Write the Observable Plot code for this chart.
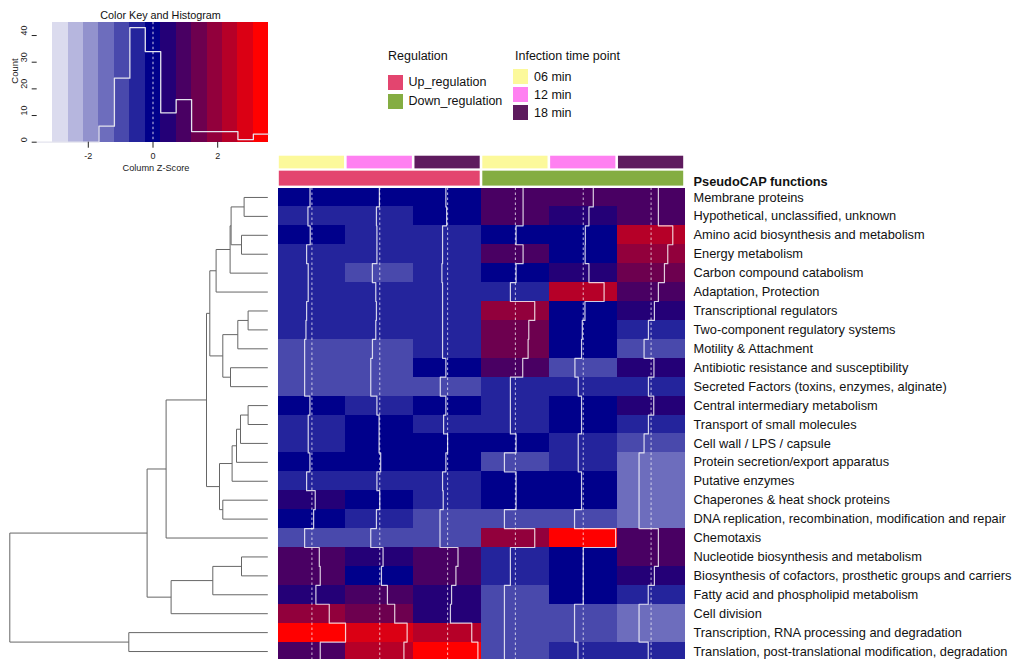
<!DOCTYPE html>
<html>
<head>
<meta charset="utf-8">
<script src="https://cdn.jsdelivr.net/npm/d3@7"></script>
<script src="https://cdn.jsdelivr.net/npm/@observablehq/plot@0.6"></script>
<style>
  html, body { margin: 0; padding: 0; background: #ffffff; }
  #chart { position: relative; width: 1015px; height: 659px; overflow: hidden;
           font-family: "Liberation Sans", Arial, Helvetica, sans-serif; color: #111; }
  #chart svg { position: absolute; left: 0; top: 0; }
  .lg-title { position: absolute; font-size: 12.5px; line-height: 16px; white-space: nowrap; }
  .lg-item { position: absolute; font-size: 12.5px; line-height: 16px; white-space: nowrap; }
  .lg-swatch { position: absolute; width: 15px; height: 15px; }
</style>
</head>
<body>
<div id="chart"></div>
<script>
// ---------- data ----------
const rowLabels = [
  "Membrane proteins",
  "Hypothetical, unclassified, unknown",
  "Amino acid biosynthesis and metabolism",
  "Energy metabolism",
  "Carbon compound catabolism",
  "Adaptation, Protection",
  "Transcriptional regulators",
  "Two-component regulatory systems",
  "Motility & Attachment",
  "Antibiotic resistance and susceptibility",
  "Secreted Factors (toxins, enzymes, alginate)",
  "Central intermediary metabolism",
  "Transport of small molecules",
  "Cell wall / LPS / capsule",
  "Protein secretion/export apparatus",
  "Putative enzymes",
  "Chaperones & heat shock proteins",
  "DNA replication, recombination, modification and repair",
  "Chemotaxis",
  "Nucleotide biosynthesis and metabolism",
  "Biosynthesis of cofactors, prosthetic groups and carriers",
  "Fatty acid and phospholipid metabolism",
  "Cell division",
  "Transcription, RNA processing and degradation",
  "Translation, post-translational modification, degradation"
];

// column z-scores, one array per sample column (rows in the order above)
const up06   = [-0.20,-0.42,-0.18,-0.56,-0.39,-0.39,-0.56,-0.63,-0.77,-0.77,-0.77,-0.21,-0.39,-0.39,-0.21,-0.56, 0.35, 0.18,-0.77, 0.78, 0.88, 0.42, 1.83, 3.55, 0.88];
const up12   = [-0.04,-0.35,-0.30,-0.30,-0.78,-0.42,-0.35,-0.42,-0.77,-0.95,-0.95,-0.30,-0.07,-0.07, 0.10,-0.30, 0.00,-0.35,-0.95, 0.35, 0.18, 0.81, 1.58, 2.89, 2.55];
const up18   = [-0.18,-0.10,-0.53,-0.53,-0.60,-0.53,-0.53,-0.53,-0.53,-0.18,-0.77,-0.18,-0.42, 0.00,-0.18,-0.53,-0.46,-0.80,-0.80, 1.10, 0.88, 0.42, 0.30, 2.55, 3.20];
const down06 = [ 0.81, 0.81, 0.07, 0.81, 0.07,-0.53, 2.04, 1.41, 1.34, 0.77,-0.53,-0.53,-0.53, 0.07,-1.16, 0.07, 0.07,-1.16, 2.04,-0.53,-0.53,-1.16,-1.16,-1.16,-1.16];
const down12 = [ 1.06, 0.60, 0.22, 0.20, 0.60, 2.20, 0.18,-0.10,-0.18,-0.88,-0.53,-0.18,-0.18,-0.53,-0.53,-0.18,-0.18,-0.92, 3.42, 0.00, 0.00, 0.00,-0.92,-0.92,-0.56];
const down18 = [ 0.77, 0.77, 2.29, 1.76, 1.41, 0.77, 0.35,-0.28,-0.74, 0.30,-0.28, 0.28,-0.28,-0.74,-1.27,-1.27,-1.27,-1.27, 0.77, 0.77, 0.35,-0.30,-1.27,-1.27,-0.30];

const colRegulation = ["Up_regulation", "Up_regulation", "Up_regulation", "Down_regulation", "Down_regulation", "Down_regulation"];
const colTime = ["06 min", "12 min", "18 min", "06 min", "12 min", "18 min"];
const regulationLevels = ["Up_regulation", "Down_regulation"];
const timeLevels = ["06 min", "12 min", "18 min"];

// row dendrogram (hclust-style merges: negative = leaf row, positive = earlier merge)
const mergeLeft   = [-1, -3, 1, 3, 4, -7, 6, -10, 7, 5, -12, 11, 12, 13, -17, 14, 10, 17, -20, 19, 20, 18, -24, 22];
const mergeRight  = [-2, -4, 2, -5, -6, -8, -9, -11, 8, 9, -13, -14, -15, -16, -18, 15, 16, -19, -21, -22, -23, 21, -25, 23];
const mergeHeight = [0.237, 0.263, 0.367, 0.377, 0.517, 0.197, 0.300, 0.373, 0.450, 0.580, 0.197, 0.273, 0.313, 0.357, 0.450, 0.483, 0.613, 1.017, 0.263, 0.550, 0.967, 1.207, 1.390, 2.580];

const keyTicksX = [-2, 0, 2];
const keyTicksY = [0, 10, 20, 30, 40];

// ---------- styling ----------
const FONT = '"Liberation Sans", Arial, Helvetica, sans-serif';
const regulationColors = {"Up_regulation": "#e3456f", "Down_regulation": "#84ad42"};
const timeColors = {"06 min": "#fcf99b", "12 min": "#ff80f1", "18 min": "#5e1b5e"};

const zMax = 3.58, nBins = 15;
const breaks = d3.range(nBins + 1).map(k => -zMax + k * 2 * zMax / nBins);
const ramp = d3.piecewise(d3.interpolateRgb, ["#ffffff", "#00008b", "#ff0000"]);
const palette = d3.range(nBins).map(i => d3.color(ramp(i / (nBins - 1))).formatHex());
const colorScale = {type: "threshold", domain: breaks.slice(1, -1), range: palette};

const columnSeries = [up06, up12, up18, down06, down12, down18];
const nCols = columnSeries.length, nRows = rowLabels.length;

const cells = columnSeries.flatMap((vals, c) => vals.map((v, r) => ({c, r, v})));
// column trace: offset from the column centre proportional to the z-score
const tracePts = columnSeries.flatMap((vals, c) => vals.flatMap((v, r) => {
  const x = c + 0.5 + v / (2 * zMax);
  return [{c, x, y: r}, {c, x, y: r + 1}];
}));

const regGroups = regulationLevels.map(g => {
  const idx = colRegulation.map((d, i) => d === g ? i : -1).filter(i => i >= 0);
  return {g, x1: d3.min(idx), x2: d3.max(idx) + 1};
});

const chart = document.getElementById("chart");

// ---------- heatmap ----------
const heat = Plot.plot({
  width: 1015, height: 659,
  x: {domain: [0, nCols], range: [277.5, 684.5], axis: null},
  y: {domain: [0, nRows], range: [187.5, 660.5], axis: null},
  color: colorScale,
  style: {fontFamily: FONT, background: "transparent", color: "#111"},
  marks: [
    Plot.rect(cells, {x1: "c", x2: d => d.c + 1, y1: "r", y2: d => d.r + 1, fill: "v",
      shapeRendering: "crispEdges"}),
    Plot.ruleX(d3.range(nCols), {x: c => c + 0.5, y1: 0, y2: nRows, stroke: "#ffffff",
      strokeOpacity: 0.65, strokeWidth: 1.1, strokeDasharray: "2.5,2.5"}),
    Plot.line(tracePts, {x: "x", y: "y", z: "c", stroke: "#ffffff", strokeOpacity: 0.8, strokeWidth: 1.2}),
    ...timeLevels.map(t => Plot.rect(d3.range(nCols).filter(c => colTime[c] === t), {
      x1: c => c, x2: c => c + 1, y1: -1.68, y2: -1.01, fill: timeColors[t], insetLeft: 1.3, insetRight: 1.3})),
    ...regGroups.map(g => Plot.rect([g], {
      x1: "x1", x2: "x2", y1: -0.89, y2: -0.1, fill: regulationColors[g.g], insetLeft: 1.3, insetRight: 1.3})),
    Plot.text(rowLabels, {x: nCols, y: (d, i) => i + 0.5, text: d => d, dx: 8.5,
      textAnchor: "start", fontSize: 12.8, fill: "#111"}),
    Plot.text(["PseudoCAP functions"], {x: nCols, y: -0.34, text: d => d, dx: 8.5,
      textAnchor: "start", fontSize: 12.8, fontWeight: "bold", fill: "#111"})
  ]
});
chart.appendChild(heat);

// ---------- row dendrogram ----------
const nodeY = [], nodeH = [];
const segs = [];
const childPos = id => id < 0 ? {y: -id - 0.5, h: 0} : {y: nodeY[id - 1], h: nodeH[id - 1]};
mergeHeight.forEach((h, i) => {
  const a = childPos(mergeLeft[i]), b = childPos(mergeRight[i]);
  segs.push({x1: a.h, y1: a.y, x2: h, y2: a.y});
  segs.push({x1: b.h, y1: b.y, x2: h, y2: b.y});
  segs.push({x1: h, y1: a.y, x2: h, y2: b.y});
  nodeY.push((a.y + b.y) / 2);
  nodeH.push(h);
});
const dendro = Plot.plot({
  width: 280, height: 659,
  x: {domain: [d3.max(mergeHeight), 0], range: [9.3, 267.3], axis: null},
  y: {domain: [0, nRows], range: [187.5, 660.5], axis: null},
  style: {background: "transparent"},
  marks: [
    Plot.link(segs, {x1: "x1", y1: "y1", x2: "x2", y2: "y2", stroke: "#666666", strokeWidth: 1})
  ]
});
chart.appendChild(dendro);

// ---------- colour key and histogram ----------
const allValues = columnSeries.flat();
const counts = d3.range(nBins).map(k => allValues.filter(v => v >= breaks[k] && v < breaks[k + 1]).length);
const histPts = breaks.map((b, k) => ({x: b, n: counts[Math.min(k, nBins - 1)]}));
const key = Plot.plot({
  width: 280, height: 180,
  marginLeft: 36.7, marginRight: 11.7, marginTop: 21.7, marginBottom: 38.3,
  x: {domain: [-zMax, zMax]},
  y: {domain: [0, 45]},
  color: colorScale,
  style: {fontFamily: FONT, background: "transparent", color: "#222"},
  marks: [
    Plot.rect(d3.range(nBins), {x1: k => breaks[k], x2: k => breaks[k + 1], y1: 0, y2: 45,
      fill: k => (breaks[k] + breaks[k + 1]) / 2, shapeRendering: "crispEdges"}),
    Plot.ruleX([0], {stroke: "#ffffff", strokeOpacity: 0.8, strokeDasharray: "2.5,2.5"}),
    Plot.line(histPts, {x: "x", y: "n", curve: "step-after", stroke: "#e4e4ee", strokeWidth: 1.3}),
    Plot.axisX({ticks: keyTicksX, tickSize: 6, tickPadding: 4, fontSize: 9,
      tickFormat: d => String(d), label: null}),
    Plot.axisY({ticks: keyTicksY, tickSize: 5, tickFormat: () => "", label: null}),
    Plot.text(keyTicksY, {y: d => d, text: d => String(d), frameAnchor: "left", dx: -13.5,
      rotate: -90, fontSize: 9}),
    Plot.text(["Count"], {text: d => d, frameAnchor: "left", dx: -22, dy: 1.5, rotate: -90, fontSize: 9.5}),
    Plot.text(["Color Key and Histogram"], {text: d => d, frameAnchor: "top", lineAnchor: "middle",
      dx: 7.5, dy: -7, fontSize: 10.8, fill: "#111"}),
    Plot.text(["Column Z-Score"], {text: d => d, frameAnchor: "bottom", lineAnchor: "middle",
      dx: 3, dy: 25.6, fontSize: 9.2})
  ]
});
chart.appendChild(key);

// ---------- legends ----------
function addDiv(cls, left, top, text, bg) {
  const d = document.createElement("div");
  d.className = cls;
  d.style.left = left + "px";
  d.style.top = top + "px";
  if (text) d.textContent = text;
  if (bg) d.style.background = bg;
  chart.appendChild(d);
}
addDiv("lg-title", 388, 48, "Regulation");
regulationLevels.forEach((g, i) => {
  addDiv("lg-swatch", 387.5, 74.5 + i * 19, null, regulationColors[g]);
  addDiv("lg-item", 408.5, 74 + i * 19, g);
});
addDiv("lg-title", 515, 48, "Infection time point");
timeLevels.forEach((t, i) => {
  addDiv("lg-swatch", 513, 68.5 + i * 18.3, null, timeColors[t]);
  addDiv("lg-item", 534, 68.5 + i * 18.3, t);
});
</script>
</body>
</html>
